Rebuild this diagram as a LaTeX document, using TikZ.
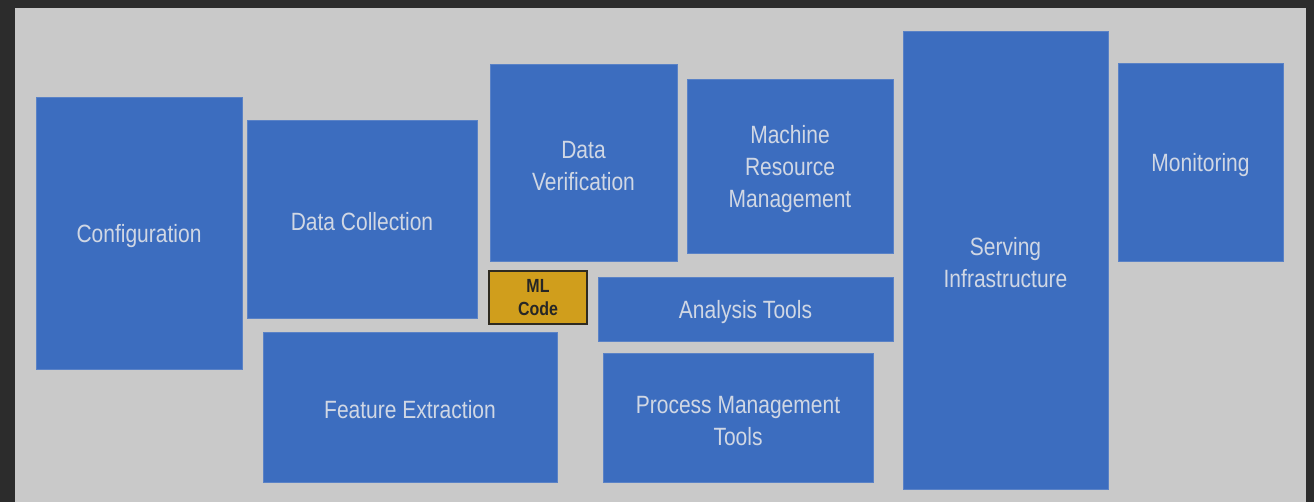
\documentclass[tikz,border=0pt]{standalone}
\usepackage{fontspec}
\setmainfont{Liberation Sans}[FakeStretch=0.84]
\begin{document}
\begin{tikzpicture}[x=1bp,y=-1bp]
\definecolor{bgdark}{HTML}{2C2C2C}
\definecolor{panelgray}{HTML}{C9C9C9}
\definecolor{boxblue}{HTML}{3C6DBF}
\definecolor{boxedge}{HTML}{5A82C6}
\definecolor{boxtext}{HTML}{D0D7E4}
\definecolor{mlgold}{HTML}{D09E1C}
\definecolor{mledge}{HTML}{2E2A20}
\tikzset{
  box/.style={rectangle, anchor=north west, fill=boxblue, draw=boxedge, line width=0.6bp,
    inner sep=0pt, outer sep=0pt, align=center, text=boxtext, text height=24bp,
    font=\fontsize{25bp}{32bp}\selectfont},
  twolines/.style={text height=56bp},
  threelines/.style={text height=88bp},
  mlbox/.style={rectangle, anchor=north west, fill=mlgold, draw=mledge, line width=1.2bp,
    inner sep=0pt, outer sep=0pt, align=center, text=black!85,
    font=\bfseries\fontsize{19bp}{23bp}\selectfont}
}
\useasboundingbox (0,0) rectangle (1314,502);
\fill[bgdark] (0,0) rectangle (1314,502);
\fill[panelgray] (15,8) rectangle (1306,502);
\node[box, minimum width=206bp, minimum height=272bp] (config) at (36,97) {Configuration};
\node[box, minimum width=230bp, minimum height=198bp] (datacol) at (247,120) {Data Collection};
\node[box, twolines, minimum width=187bp, minimum height=197bp] (dataver) at (490,64) {Data\\Verification};
\node[box, threelines, minimum width=206bp, minimum height=174bp] (mrm) at (687,79) {Machine\\Resource\\Management};
\node[box, twolines, minimum width=205bp, minimum height=458bp] (serving) at (903,31) {Serving\\Infrastructure};
\node[box, minimum width=165bp, minimum height=198bp] (monitor) at (1118,63) {Monitoring};
\node[mlbox, minimum width=98bp, minimum height=53bp] (mlcode) at (489,271) {ML\\Code};
\node[box, minimum width=295bp, minimum height=64bp] (analysis) at (598,277) {Analysis Tools};
\node[box, minimum width=294bp, minimum height=150bp] (feature) at (263,332) {Feature Extraction};
\node[box, twolines, minimum width=270bp, minimum height=129bp] (process) at (603,353) {Process Management\\Tools};
\end{tikzpicture}
\end{document}
